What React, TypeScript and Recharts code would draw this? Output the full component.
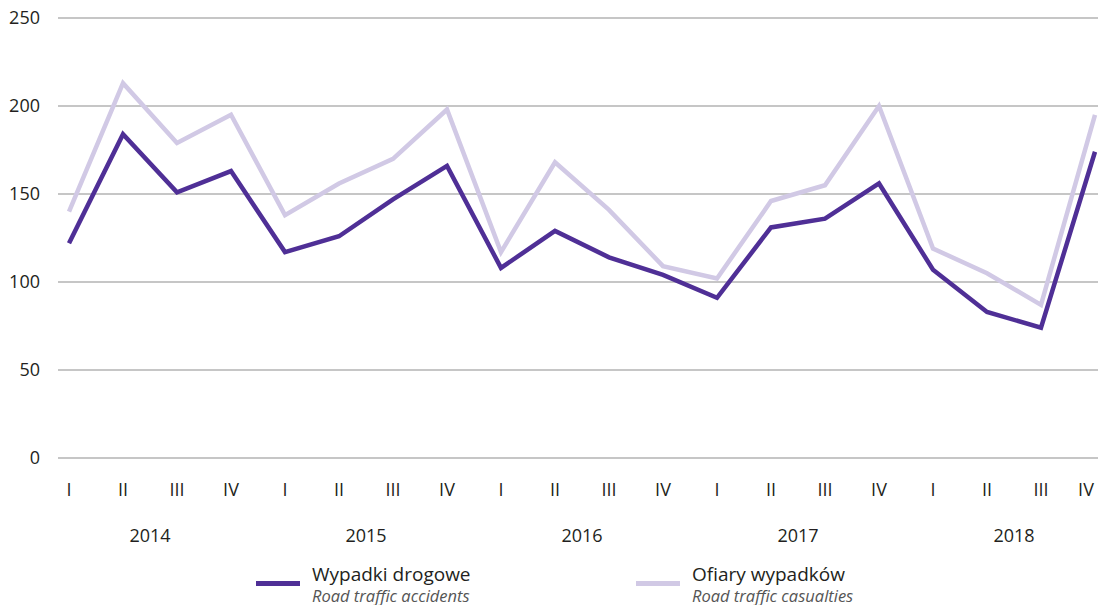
import React from "react";
import { LineChart, Line, XAxis, YAxis, CartesianGrid, Legend } from "recharts";

const quarters = ["I", "II", "III", "IV", "I", "II", "III", "IV", "I", "II", "III", "IV", "I", "II", "III", "IV", "I", "II", "III", "IV"];
const years = ["2014", "2015", "2016", "2017", "2018"];
const accidents = [122, 184, 151, 163, 117, 126, 147, 166, 108, 129, 114, 104, 91, 131, 136, 156, 107, 83, 74, 174];
const casualties = [140, 213, 179, 195, 138, 156, 170, 198, 117, 168, 141, 109, 102, 146, 155, 200, 119, 105, 87, 195];
const yTicks = [0, 50, 100, 150, 200, 250];

const data = quarters.map((q, i) => ({
  key: `${years[Math.floor(i / 4)]}-${q}`,
  q,
  year: years[Math.floor(i / 4)],
  accidents: accidents[i],
  casualties: casualties[i],
}));

const DARK = "#4f2f96";
const LIGHT = "#d1c9e5";
const FONT = "'Open Sans', sans-serif";
const TXT = "#231f20";

const XTick = (props: any) => {
  const { x, y, index } = props;
  const d = data[index];
  if (!d) return null;
  const tx = Math.min(x, 1086);
  return (
    <g>
      <text x={tx} y={y + 33} textAnchor="middle" dominantBaseline="middle" fontSize={18} fill={TXT} fontFamily={FONT}>
        {d.q}
      </text>
      {index % 4 === 1 && (
        <text x={x + 27} y={y + 79} textAnchor="middle" dominantBaseline="middle" fontSize={18} fill={TXT} fontFamily={FONT}>
          {d.year}
        </text>
      )}
    </g>
  );
};

const LegendContent = () => (
  <div style={{ position: "relative", width: 1098, height: 46, fontFamily: FONT }}>
    <div style={{ position: "absolute", left: 256, top: 24, width: 44, height: 5, background: DARK }} />
    <div style={{ position: "absolute", left: 312, top: 6, fontSize: 19, color: TXT, lineHeight: "22px", whiteSpace: "nowrap" }}>
      Wypadki drogowe
    </div>
    <div style={{ position: "absolute", left: 312, top: 30, fontSize: 16.5, color: "#555", fontStyle: "italic", lineHeight: "18px", whiteSpace: "nowrap" }}>
      Road traffic accidents
    </div>
    <div style={{ position: "absolute", left: 636, top: 24, width: 44, height: 5, background: LIGHT }} />
    <div style={{ position: "absolute", left: 692, top: 6, fontSize: 19, color: TXT, lineHeight: "22px", whiteSpace: "nowrap" }}>
      Ofiary wypadków
    </div>
    <div style={{ position: "absolute", left: 692, top: 30, fontSize: 16.5, color: "#555", fontStyle: "italic", lineHeight: "18px", whiteSpace: "nowrap" }}>
      Road traffic casualties
    </div>
  </div>
);

export default function App() {
  return (
    <div style={{ position: "absolute", left: 0, top: 0, width: 1098, height: 605, background: "#fff" }}>
      <LineChart width={1098} height={605} data={data} margin={{ top: 18, right: 0, bottom: 2, left: 0 }}>
        <CartesianGrid vertical={false} stroke="#b3b3b3" strokeWidth={1.5} />
        <XAxis
          dataKey="key"
          axisLine={false}
          tickLine={false}
          tickSize={0}
          tickMargin={0}
          interval={0}
          height={99}
          padding={{ left: 11, right: 3 }}
          tick={<XTick />}
        />
        <YAxis
          domain={[0, 250]}
          ticks={yTicks}
          axisLine={false}
          tickLine={false}
          tickSize={0}
          tickMargin={18}
          width={58}
          tick={{ fontSize: 18, fill: TXT, fontFamily: FONT }}
        />
        <Legend verticalAlign="bottom" height={46} content={<LegendContent />} />
        <Line dataKey="casualties" stroke={LIGHT} strokeWidth={4.5} dot={false} isAnimationActive={false} strokeLinejoin="miter" />
        <Line dataKey="accidents" stroke={DARK} strokeWidth={4.5} dot={false} isAnimationActive={false} strokeLinejoin="miter" />
      </LineChart>
    </div>
  );
}
